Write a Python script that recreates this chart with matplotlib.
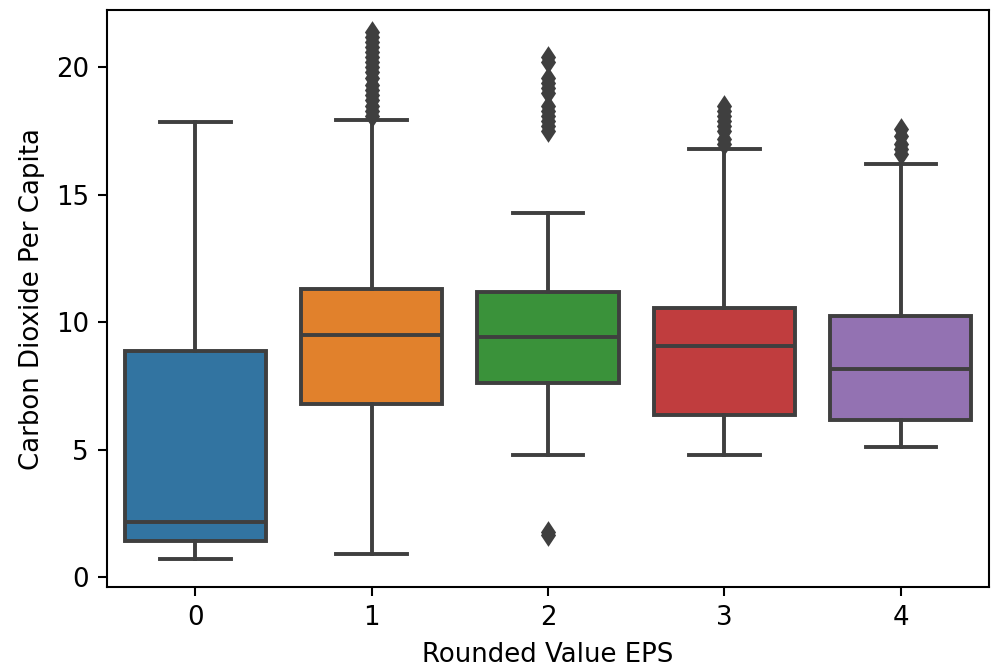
import matplotlib
matplotlib.use("Agg")
import matplotlib.pyplot as plt

categories = ["0", "1", "2", "3", "4"]
whislo = [0.7, 0.9, 4.8, 4.8, 5.1]
q1 = [1.4, 6.8, 7.6, 6.35, 6.15]
med = [2.15, 9.5, 9.4, 9.05, 8.15]
q3 = [8.85, 11.3, 11.2, 10.55, 10.25]
whishi = [17.85, 17.95, 14.3, 16.8, 16.2]
fliers = [
    [],
    [18.1, 18.3, 18.5, 18.7, 18.9, 19.1, 19.3, 19.6, 19.8, 20.0, 20.2, 20.4, 20.6, 20.8, 21.0, 21.2, 21.4],
    [1.65, 1.75, 17.5, 17.7, 17.9, 18.1, 18.3, 18.5, 19.0, 19.2, 19.4, 19.6, 20.2, 20.4],
    [17.0, 17.2, 17.5, 17.7, 17.9, 18.1, 18.3, 18.5],
    [16.6, 16.8, 17.0, 17.3, 17.6],
]
colors = ["#3274a1", "#e1812c", "#3a923a", "#c03d3e", "#9372b2"]

dpi = 187
fig = plt.figure(figsize=(991 / dpi, 668 / dpi), dpi=dpi)
ax = fig.add_axes([0.108, 0.121, 0.89, 0.864])

gray = "#3f3f3f"
stats = []
for i in range(len(categories)):
    stats.append(dict(whislo=whislo[i], q1=q1[i], med=med[i], q3=q3[i],
                      whishi=whishi[i], fliers=fliers[i], label=categories[i]))

bp = ax.bxp(stats, positions=range(len(categories)), widths=0.8,
            patch_artist=True, showfliers=True,
            boxprops=dict(edgecolor=gray, linewidth=1.5),
            medianprops=dict(color=gray, linewidth=1.5),
            whiskerprops=dict(color=gray, linewidth=1.5),
            capprops=dict(color=gray, linewidth=1.5),
            flierprops=dict(marker="d", markersize=5, markerfacecolor=gray,
                            markeredgecolor=gray, linestyle="none"),
            capwidths=0.4)
for patch, c in zip(bp["boxes"], colors):
    patch.set_facecolor(c)

ax.set_xlim(-0.5, 4.5)
ax.set_ylim(-0.4, 22.25)
ax.set_yticks([0, 5, 10, 15, 20])
ax.set_xlabel("Rounded Value EPS")
ax.set_ylabel("Carbon Dioxide Per Capita")

fig.savefig("out.png", dpi=dpi)
